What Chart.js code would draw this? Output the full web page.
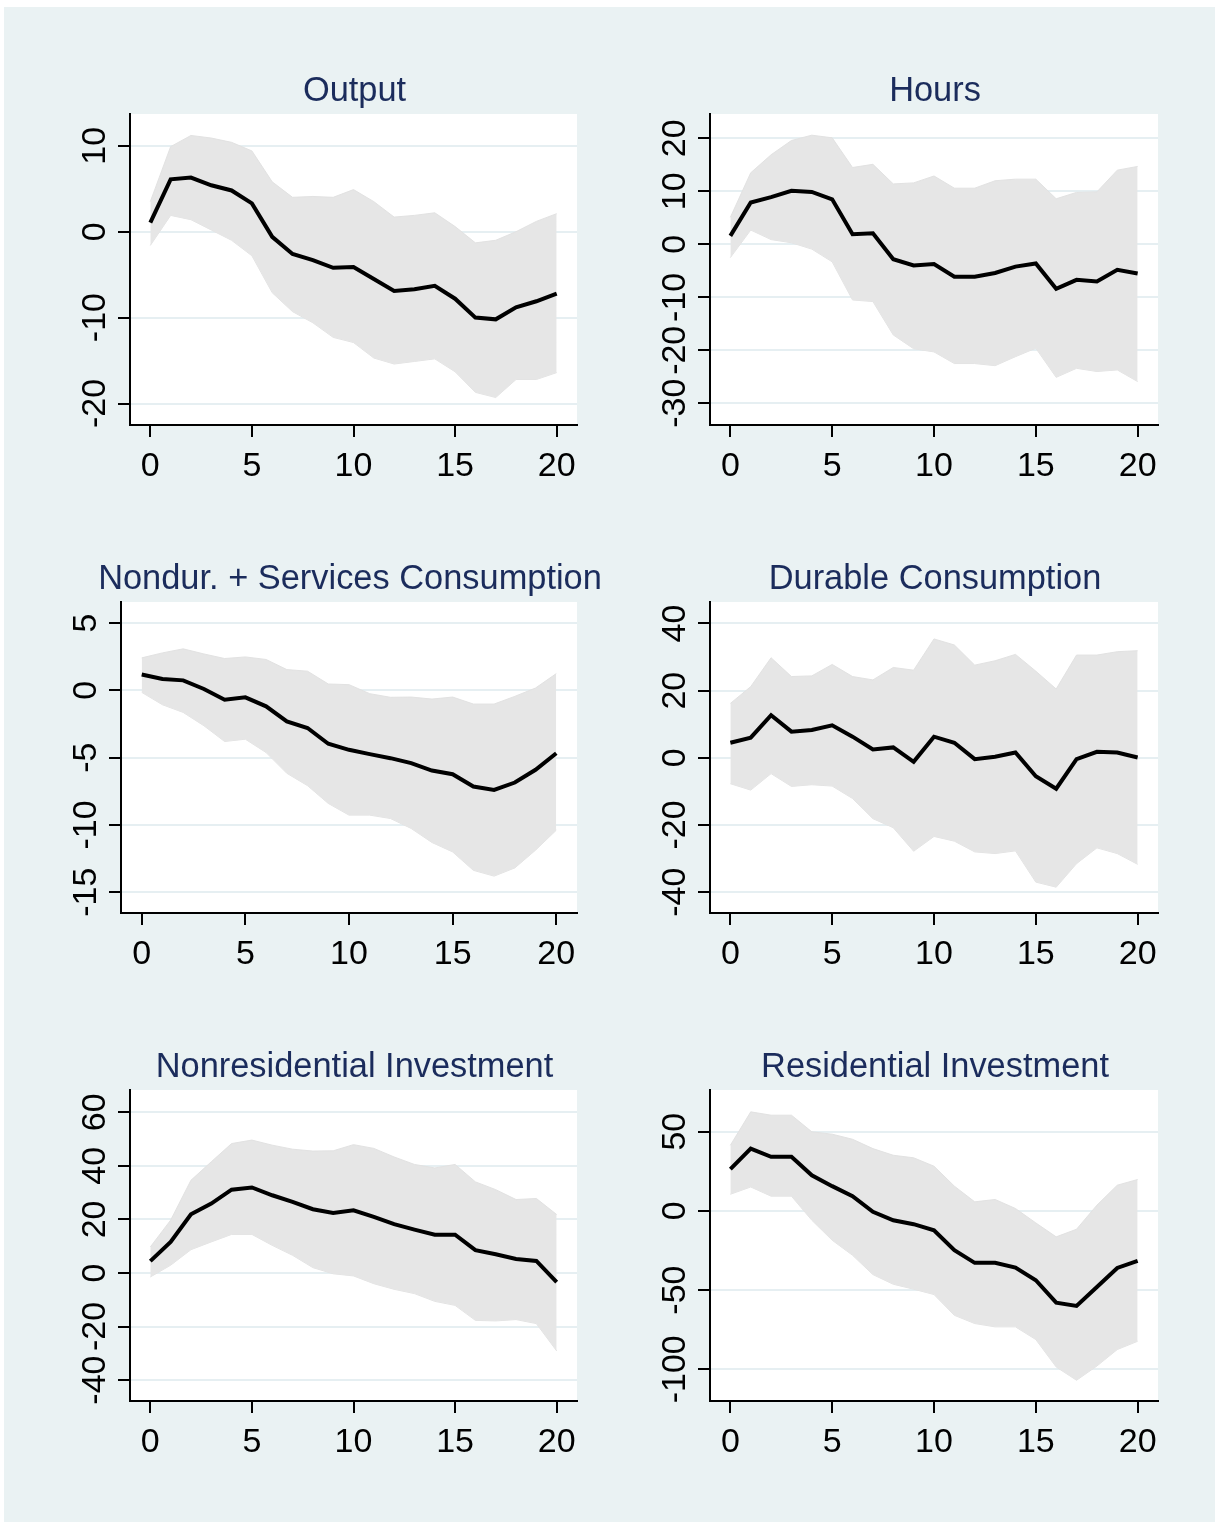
<!DOCTYPE html>
<html>
<head>
<meta charset="utf-8">
<script src="https://cdn.jsdelivr.net/npm/chart.js@4.4.1/dist/chart.umd.min.js"></script>
<style>
  html, body { margin: 0; padding: 0; background: #ffffff; }
  #frame { position: absolute; left: 4px; top: 7px; width: 1211px; height: 1515px; background: #eaf2f3; }
  canvas { position: absolute; }
</style>
</head>
<body>
<div id="frame"></div>
<script>
// horizons (quarters after the shock)
const horizon = [0, 1, 2, 3, 4, 5, 6, 7, 8, 9, 10, 11, 12, 13, 14, 15, 16, 17, 18, 19, 20]
const horizonTicks = [0, 5, 10, 15, 20]

// Output
const outputIrf = [1.05, 6.1, 6.3, 5.4, 4.8, 3.3, -0.6, -2.6, -3.3, -4.2, -4.1, -5.5, -6.9, -6.7, -6.3, -7.8, -10.0, -10.2, -8.8, -8.1, -7.2]
const outputHi = [3.5, 9.9, 11.2, 10.9, 10.4, 9.4, 5.8, 4.0, 4.1, 4.0, 4.9, 3.5, 1.7, 1.9, 2.2, 0.6, -1.3, -1.0, 0.0, 1.2, 2.1]
const outputLo = [-1.6, 1.9, 1.4, 0.2, -1.0, -2.8, -7.1, -9.3, -10.6, -12.3, -12.9, -14.7, -15.4, -15.1, -14.8, -16.3, -18.7, -19.3, -17.2, -17.2, -16.4]
const outputTicks = [-20, -10, 0, 10]

// Hours
const hoursIrf = [1.6, 7.9, 8.9, 10.1, 9.9, 8.5, 1.9, 2.1, -2.8, -4.0, -3.7, -6.1, -6.1, -5.4, -4.2, -3.6, -8.4, -6.7, -7.0, -4.8, -5.5]
const hoursHi = [5.1, 13.5, 16.9, 19.6, 20.6, 20.1, 14.5, 15.1, 11.4, 11.6, 12.9, 10.6, 10.6, 12.0, 12.3, 12.3, 8.6, 9.8, 9.9, 14.0, 14.7]
const hoursLo = [-2.5, 2.7, 0.9, 0.3, -0.9, -3.3, -10.5, -10.8, -17.1, -19.7, -20.3, -22.5, -22.5, -22.9, -21.2, -19.6, -25.1, -23.4, -24.0, -23.7, -25.9]
const hoursTicks = [-30, -20, -10, 0, 10, 20]

// Nondurables + services consumption
const nondurIrf = [1.17, 0.84, 0.74, 0.1, -0.7, -0.52, -1.19, -2.31, -2.8, -3.97, -4.42, -4.74, -5.04, -5.41, -5.96, -6.23, -7.15, -7.4, -6.85, -5.9, -4.67]
const nondurHi = [2.41, 2.78, 3.08, 2.7, 2.36, 2.48, 2.29, 1.54, 1.42, 0.47, 0.42, -0.25, -0.52, -0.5, -0.65, -0.5, -1.02, -1.02, -0.45, 0.17, 1.24]
const nondurLo = [-0.15, -1.07, -1.64, -2.63, -3.8, -3.63, -4.62, -6.16, -7.08, -8.4, -9.27, -9.27, -9.52, -10.26, -11.3, -12.0, -13.37, -13.8, -13.19, -11.87, -10.39]
const nondurTicks = [-15, -10, -5, 0, 5]

// Durable consumption
const durableIrf = [4.5, 6.0, 12.7, 7.8, 8.3, 9.7, 6.3, 2.5, 3.1, -1.2, 6.3, 4.5, -0.4, 0.3, 1.6, -5.5, -9.2, -0.4, 1.8, 1.6, 0.1]
const durableHi = [16.2, 21.2, 29.8, 24.2, 24.4, 27.8, 24.2, 23.2, 26.9, 26.1, 35.4, 33.6, 27.6, 28.9, 30.8, 25.8, 20.5, 30.6, 30.6, 31.6, 31.9]
const durableLo = [-7.7, -9.6, -4.7, -8.5, -8.0, -8.4, -12.1, -18.1, -20.8, -27.8, -23.4, -24.8, -28.0, -28.5, -27.7, -37.0, -38.5, -31.5, -26.8, -28.5, -31.7]
const durableTicks = [-40, -20, 0, 20, 40]

// Nonresidential investment
const nonresIrf = [4.4, 11.6, 21.9, 25.9, 31.1, 31.9, 29.0, 26.5, 23.8, 22.4, 23.4, 20.9, 18.2, 16.2, 14.3, 14.3, 8.5, 7.0, 5.2, 4.5, -3.4]
const nonresHi = [9.7, 19.7, 34.6, 41.5, 48.3, 49.6, 47.7, 46.2, 45.5, 45.6, 47.9, 46.5, 43.3, 40.5, 39.2, 40.5, 34.0, 31.1, 27.4, 27.8, 21.8]
const nonresLo = [-1.5, 2.9, 8.7, 11.6, 14.4, 14.4, 10.3, 6.6, 2.0, -0.3, -1.1, -4.0, -6.1, -7.7, -10.6, -12.1, -17.7, -17.9, -17.4, -18.9, -29.1]
const nonresTicks = [-40, -20, 0, 20, 40, 60]

// Residential investment
const residIrf = [26.3, 39.3, 34.1, 34.1, 22.5, 15.6, 9.3, -0.6, -5.9, -8.4, -12.2, -24.8, -32.8, -32.8, -35.8, -43.8, -57.9, -60.0, -48.0, -36.0, -31.6]
const residHi = [41.4, 62.5, 60.4, 60.4, 49.9, 48.4, 45.2, 39.3, 35.1, 33.5, 28.2, 15.6, 5.7, 7.2, 1.5, -7.6, -16.4, -11.6, 3.6, 16.2, 19.8]
const residLo = [10.5, 15.1, 9.3, 9.3, -5.9, -18.5, -28.0, -40.2, -46.3, -49.4, -52.8, -65.9, -71.1, -73.2, -73.2, -81.2, -98.5, -106.9, -97.9, -87.5, -82.3]
const residTicks = [-100, -50, 0, 50]

const FONT_FAMILY = '"Liberation Sans", Arial, Helvetica, sans-serif'
const FONT_SIZE = 34
const TITLE_SIZE = 34.4
const TITLE_COLOR = "#1b2c5c"
const GRID_COLOR = "#e6eff2"
const BAND_COLOR = "#e6e6e6"
const TICK_LEN = 12
const Y_WIDTH = 14
const X_HEIGHT = 70

// plot box in page pixels: [left, top, right, bottom]
const panels = [
  { title: "Output", irf: outputIrf, hi: outputHi, lo: outputLo, ticks: outputTicks, yMin: -22.5, yMax: 13.7, box: [130, 114, 577, 425] },
  { title: "Hours", irf: hoursIrf, hi: hoursHi, lo: hoursLo, ticks: hoursTicks, yMin: -34.1, yMax: 24.6, box: [710, 114, 1158, 425] },
  { title: "Nondur. + Services Consumption", irf: nondurIrf, hi: nondurHi, lo: nondurLo, ticks: nondurTicks, yMin: -16.54, yMax: 6.56, box: [121, 602, 577, 913] },
  { title: "Durable Consumption", irf: durableIrf, hi: durableHi, lo: durableLo, ticks: durableTicks, yMin: -46.2, yMax: 46.4, box: [710, 602, 1158, 913] },
  { title: "Nonresidential Investment", irf: nonresIrf, hi: nonresHi, lo: nonresLo, ticks: nonresTicks, yMin: -47.8, yMax: 68.3, box: [130, 1090, 577, 1401] },
  { title: "Residential Investment", irf: residIrf, hi: residHi, lo: residLo, ticks: residTicks, yMin: -120, yMax: 76.3, box: [710, 1090, 1158, 1401] },
]

function toPoints(values) {
  return horizon.map((h, i) => ({ x: h, y: values[i] }))
}

// white plot region, rotated y labels and the title, Stata style
const stataLook = {
  id: "stataLook",
  beforeDraw(chart) {
    const { ctx, chartArea: a } = chart
    ctx.save()
    ctx.fillStyle = "#ffffff"
    ctx.fillRect(a.left, a.top, a.right - a.left, a.bottom - a.top)
    ctx.restore()
  },
  afterDraw(chart, args, opts) {
    const { ctx, chartArea: a } = chart
    const yScale = chart.scales.y
    ctx.save()
    ctx.font = FONT_SIZE + "px " + FONT_FAMILY
    ctx.textAlign = "center"
    ctx.textBaseline = "alphabetic"
    ctx.fillStyle = "#000000"
    yScale.ticks.forEach((t) => {
      ctx.save()
      ctx.translate(a.left - TICK_LEN - 13.5, yScale.getPixelForValue(t.value))
      ctx.rotate(-Math.PI / 2)
      ctx.fillText(String(t.value), 0, 0)
      ctx.restore()
    })
    ctx.font = TITLE_SIZE + "px " + FONT_FAMILY
    ctx.fillStyle = TITLE_COLOR
    ctx.fillText(opts.title, (a.left + a.right) / 2 + 1, a.top - 13)
    ctx.restore()
  },
}

Chart.defaults.font.family = FONT_FAMILY

panels.forEach((p) => {
  const [l, t, r, b] = p.box
  const padL = 110
  const padT = 74
  const padR = 30
  const padB = 85
  const canvas = document.createElement("canvas")
  canvas.width = r - l + padL + padR
  canvas.height = b - t + padT + padB
  canvas.style.left = l - padL + "px"
  canvas.style.top = t - padT + "px"
  document.body.appendChild(canvas)

  new Chart(canvas, {
    type: "line",
    data: {
      datasets: [
        {
          label: "irf",
          data: toPoints(p.irf),
          borderColor: "#000000",
          borderWidth: 4,
          pointRadius: 0,
          tension: 0,
          fill: false,
        },
        {
          label: "upper",
          data: toPoints(p.hi),
          borderColor: "#e2e2e2",
          borderWidth: 1,
          backgroundColor: BAND_COLOR,
          pointRadius: 0,
          tension: 0,
          fill: "+1",
        },
        {
          label: "lower",
          data: toPoints(p.lo),
          borderColor: "#e2e2e2",
          borderWidth: 1,
          pointRadius: 0,
          tension: 0,
          fill: false,
        },
      ],
    },
    options: {
      responsive: false,
      devicePixelRatio: 1,
      animation: false,
      layout: { padding: { left: padL - Y_WIDTH, top: padT, right: padR, bottom: padB - X_HEIGHT } },
      plugins: {
        legend: { display: false },
        tooltip: { enabled: false },
        stataLook: { title: p.title },
      },
      scales: {
        x: {
          type: "linear",
          min: -1,
          max: 21,
          afterBuildTicks: (s) => {
            s.ticks = horizonTicks.map((v) => ({ value: v }))
          },
          afterFit: (s) => {
            s.height = X_HEIGHT
          },
          grid: { drawOnChartArea: false, color: "#000000", lineWidth: 2, tickLength: TICK_LEN },
          border: { color: "#000000", width: 2 },
          ticks: { color: "#000000", font: { size: FONT_SIZE }, padding: 9, maxRotation: 0, autoSkip: false },
        },
        y: {
          type: "linear",
          min: p.yMin,
          max: p.yMax,
          afterBuildTicks: (s) => {
            s.ticks = p.ticks.map((v) => ({ value: v }))
          },
          afterFit: (s) => {
            s.width = Y_WIDTH
          },
          grid: { color: GRID_COLOR, tickColor: "#000000", lineWidth: 2, tickWidth: 2, tickLength: TICK_LEN },
          border: { color: "#000000", width: 2 },
          ticks: { display: false },
        },
      },
    },
    plugins: [stataLook],
  })
})
</script>
</body>
</html>
